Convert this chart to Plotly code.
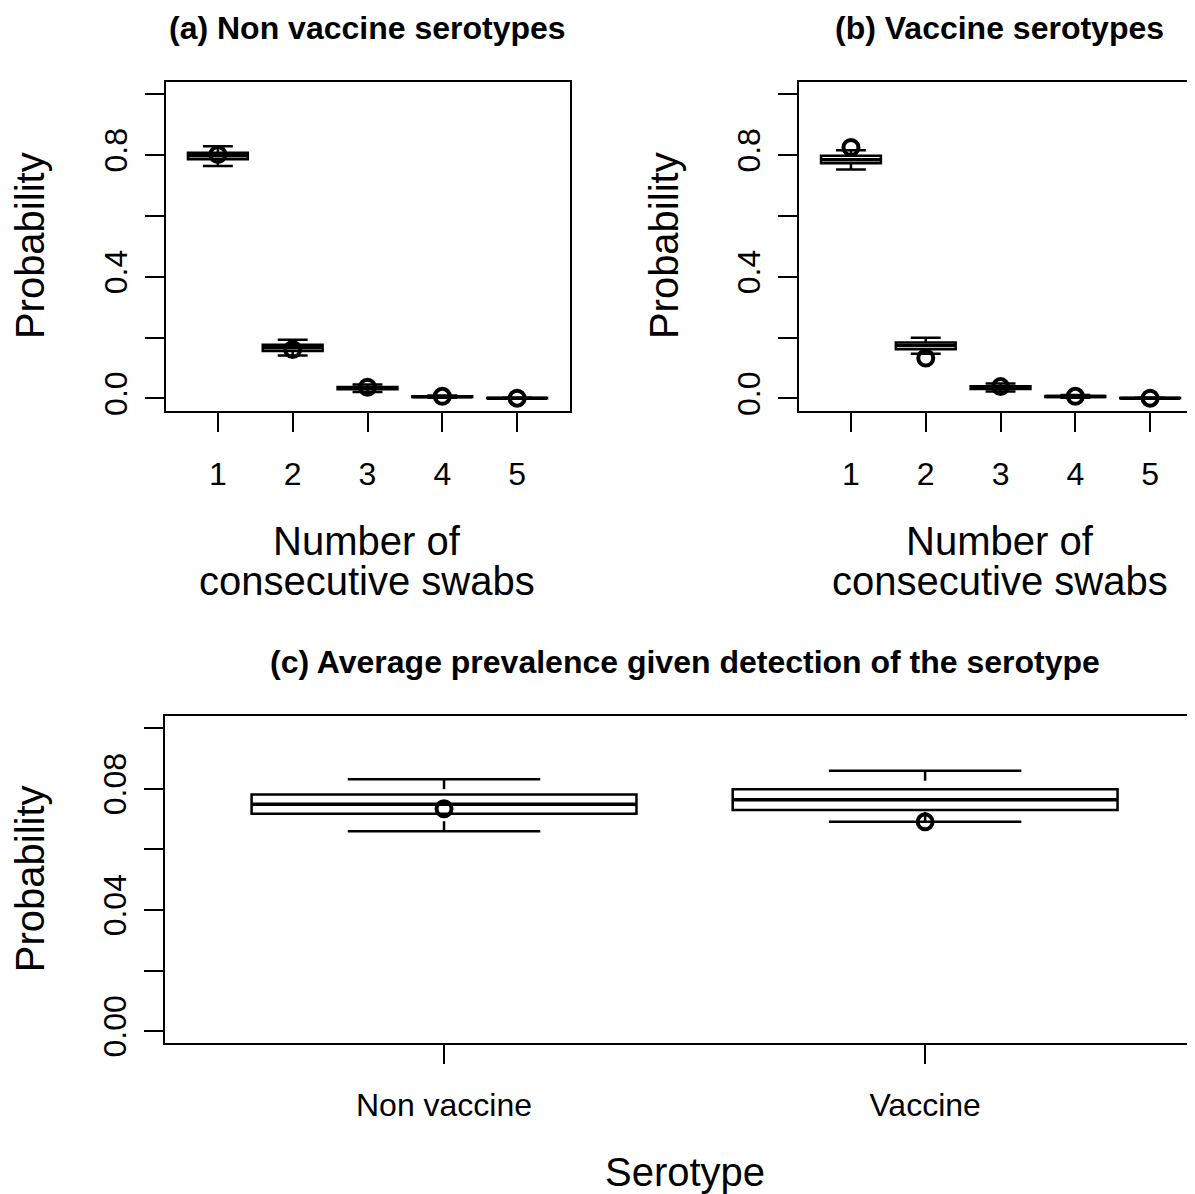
import plotly.graph_objects as go

# ---------------- data ----------------
swabs = [1, 2, 3, 4, 5]

nv_upper = [0.829, 0.193, 0.046, 0.010, 0.002]
nv_q3 = [0.808, 0.177, 0.038, 0.0075, 0.0012]
nv_median = [0.798, 0.167, 0.034, 0.006, 0.0008]
nv_q1 = [0.786, 0.156, 0.030, 0.0045, 0.0005]
nv_lower = [0.764, 0.141, 0.021, 0.002, 0.0001]
nv_obs = [0.802, 0.161, 0.037, 0.007, 0.001]

v_upper = [0.816, 0.200, 0.049, 0.011, 0.002]
v_q3 = [0.798, 0.184, 0.040, 0.008, 0.0012]
v_median = [0.785, 0.174, 0.037, 0.0065, 0.0008]
v_q1 = [0.773, 0.162, 0.031, 0.005, 0.0005]
v_lower = [0.753, 0.147, 0.023, 0.0025, 0.0001]
v_obs = [0.825, 0.133, 0.039, 0.007, 0.001]

sero_pos = [1, 2]
sero_labels = ["Non vaccine", "Vaccine"]
prev_upper = [0.0832, 0.0860]
prev_q3 = [0.0781, 0.0799]
prev_median = [0.0749, 0.0764]
prev_q1 = [0.0718, 0.0730]
prev_lower = [0.0660, 0.0691]
prev_obs = [0.0734, 0.0691]

ticks_ab = [0, 0.2, 0.4, 0.6, 0.8, 1.0]
ticktext_ab = ["0.0", "", "0.4", "", "0.8", ""]
ticks_c = [0, 0.02, 0.04, 0.06, 0.08, 0.10]
ticktext_c = ["0.00", "", "0.04", "", "0.08", ""]

# ---------------- layout helpers ----------------
OFF = 8          # page body margin
SY = 0.9885      # observed vertical scale of the capture
W, H = 1195 - OFF, 1230
FONT = "Liberation Sans, Arial, sans-serif"
BOXW = 0.8


def px_x(p):
    return (p - OFF) / W


def py_y(p):
    return 1 - (p / SY - OFF) / H


fig = go.Figure()


def hseg(pos, vals, half):
    xs, ys = [], []
    for p, v in zip(pos, vals):
        xs += [p - half, p + half, None]
        ys += [v, v, None]
    return xs, ys


def vseg(pos, starts, ends):
    xs, ys = [], []
    for p, a, b in zip(pos, starts, ends):
        xs += [p, p, None]
        ys += [a, b, None]
    return xs, ys


def line_trace(xs, ys, xa, ya, width, dash="solid"):
    return go.Scatter(x=xs, y=ys, mode="lines",
                      line=dict(color="black", width=width, dash=dash),
                      xaxis=xa, yaxis=ya, showlegend=False, hoverinfo="skip")


def add_panel(xa, ya, pos, upper, q3, med, q1, lower, obs):
    # box body (quartiles) drawn by the box trace; whiskers drawn R-style below
    fig.add_trace(go.Box(
        x=pos, q1=q1, median=med, q3=q3, lowerfence=q1, upperfence=q3,
        width=BOXW, whiskerwidth=0, boxpoints=False,
        fillcolor="white", line=dict(color="black", width=2.5),
        xaxis=xa, yaxis=ya, showlegend=False, hoverinfo="skip"))
    # thicker median
    xs, ys = hseg(pos, med, BOXW / 2)
    fig.add_trace(line_trace(xs, ys, xa, ya, 3.5))
    # dashed whiskers (from staple toward box)
    xs, ys = vseg(pos, upper, q3)
    fig.add_trace(line_trace(xs, ys, xa, ya, 2.5, "10px,9px"))
    xs, ys = vseg(pos, lower, q1)
    fig.add_trace(line_trace(xs, ys, xa, ya, 2.5, "10px,9px"))
    # staples
    xs, ys = hseg(pos, upper, BOXW / 4)
    fig.add_trace(line_trace(xs, ys, xa, ya, 2.5))
    xs, ys = hseg(pos, lower, BOXW / 4)
    fig.add_trace(line_trace(xs, ys, xa, ya, 2.5))
    # observed values
    fig.add_trace(go.Scatter(
        x=pos, y=obs, mode="markers",
        marker=dict(symbol="circle-open", size=15, color="black",
                    line=dict(width=4, color="black")),
        xaxis=xa, yaxis=ya, showlegend=False, hoverinfo="skip"))


add_panel("x", "y", swabs, nv_upper, nv_q3, nv_median, nv_q1, nv_lower, nv_obs)
add_panel("x2", "y2", swabs, v_upper, v_q3, v_median, v_q1, v_lower, v_obs)
add_panel("x3", "y3", sero_pos, prev_upper, prev_q3, prev_median, prev_q1, prev_lower, prev_obs)

axis_common = dict(showgrid=False, zeroline=False, showline=True, linecolor="black",
                   linewidth=2, ticks="outside", ticklen=19, tickwidth=2,
                   tickcolor="black", tickfont=dict(family=FONT, size=32, color="black"))

XSTAND = 15
YSTAND = 5

fig.update_layout(
    width=W, height=H, autosize=False,
    margin=dict(l=0, r=0, t=0, b=0),
    paper_bgcolor="white", plot_bgcolor="white",
    font=dict(family=FONT, color="black"),
    xaxis=dict(domain=[px_x(165.5), px_x(569.5)], range=[0.3, 5.7], tickvals=swabs,
               ticktext=[str(s) for s in swabs], mirror=True, anchor="y",
               ticklabelstandoff=XSTAND, **axis_common),
    yaxis=dict(domain=[py_y(410.5), py_y(82)], range=[-0.04, 1.04], tickvals=ticks_ab,
               ticktext=ticktext_ab, tickangle=-90, mirror=True, anchor="x",
               ticklabelstandoff=YSTAND, **axis_common),
    xaxis2=dict(domain=[px_x(798.6), 1.0], range=[0.3, 5.60], tickvals=swabs,
                ticktext=[str(s) for s in swabs], mirror=True, anchor="y2",
                ticklabelstandoff=XSTAND, **axis_common),
    yaxis2=dict(domain=[py_y(410.5), py_y(82)], range=[-0.04, 1.04], tickvals=ticks_ab,
                ticktext=ticktext_ab, tickangle=-90, mirror=False, anchor="x2",
                ticklabelstandoff=YSTAND, **axis_common),
    xaxis3=dict(domain=[px_x(165), 1.0], range=[0.42, 2.561], tickvals=sero_pos,
                ticktext=sero_labels, mirror=True, anchor="y3",
                ticklabelstandoff=XSTAND - 2, **axis_common),
    yaxis3=dict(domain=[py_y(1043), py_y(716)], range=[-0.004, 0.104], tickvals=ticks_c,
                ticktext=ticktext_c, tickangle=-90, mirror=False, anchor="x3",
                ticklabelstandoff=YSTAND, **axis_common),
)

title_font = dict(family=FONT, size=32, color="black")
lab_font = dict(family=FONT, size=40, color="black")


def ann(x, y, text, font, angle=0):
    fig.add_annotation(x=px_x(x), y=py_y(y), xref="paper", yref="paper", text=text,
                       showarrow=False, font=font, textangle=angle,
                       xanchor="center", yanchor="middle")


ann(367, 28, "<b>(a) Non vaccine serotypes</b>", title_font)
ann(1000, 28, "<b>(b) Vaccine serotypes</b>", title_font)
ann(685, 662, "<b>(c) Average prevalence given detection of the serotype</b>", title_font)

ann(30, 246, "Probability", lab_font, -90)
ann(664, 246, "Probability", lab_font, -90)
ann(30, 879, "Probability", lab_font, -90)

for cx in (367, 1000):
    ann(cx, 541, "Number of", lab_font)
    ann(cx, 581, "consecutive swabs", lab_font)
ann(685, 1172, "Serotype", lab_font)

fig.write_html("out.html")
